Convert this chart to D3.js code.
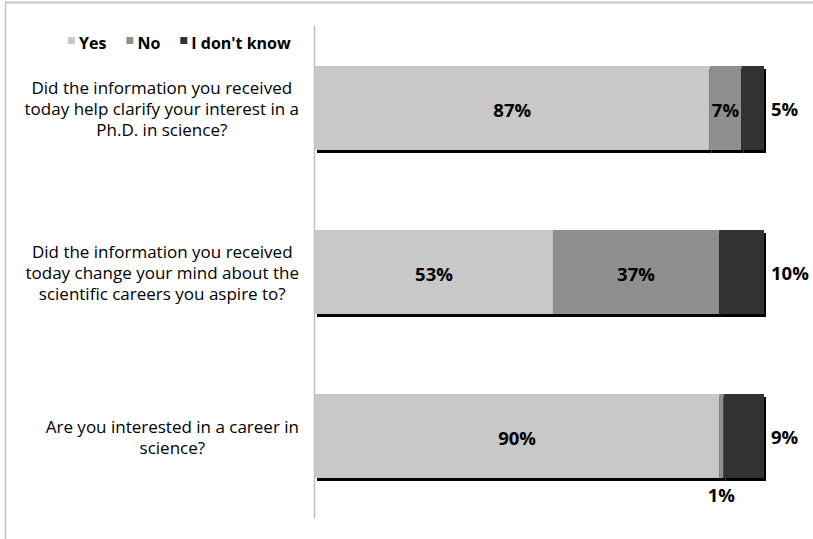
<!DOCTYPE html>
<html>
<head>
<meta charset="utf-8">
<script src="https://cdn.jsdelivr.net/npm/d3@7"></script>
<style>
  html, body { margin: 0; padding: 0; background: #fff; }
  svg { display: block; }
</style>
</head>
<body>
<svg id="chart" width="813" height="539"></svg>
<script>
// Survey questions, each wrapped onto display lines
const categories = ["q1", "q2", "q3"];
const categoryLines = [
  ["Did the information you received", "today help clarify your interest in a", "Ph.D. in science?"],
  ["Did the information you received", "today change your mind about the", "scientific careers you aspire to?"],
  ["Are you interested in a career in", "science?"]
];

// Answer shares (%), one array per answer
const seriesNames = ["Yes", "No", "I don't know"];
const yesValues = [87, 53, 90];
const noValues = [7, 37, 1];
const dontKnowValues = [5, 10, 9];

const colors = ["#c8c8c8", "#8f8f8f", "#333333"];
const FONT = "'Open Sans', 'Noto Sans', sans-serif";

const svg = d3.select("#chart");
const W = 813, H = 539;

// Outer frame lines (top and left)
svg.append("line").attr("x1", 5).attr("x2", W).attr("y1", 2.5).attr("y2", 2.5)
  .attr("stroke", "#c8c8c8").attr("stroke-width", 2);
svg.append("line").attr("x1", 5.5).attr("x2", 5.5).attr("y1", 2).attr("y2", H)
  .attr("stroke", "#c0c0c0").attr("stroke-width", 1.5);

const plot = { left: 315, right: 764, top: 26, bottom: 518 };

const rows = categories.map((c, i) => ({
  key: c, Yes: yesValues[i], No: noValues[i], "I don't know": dontKnowValues[i]
}));

// 100% stacked layout
const stack = d3.stack().keys(seriesNames).offset(d3.stackOffsetExpand);
const layers = stack(rows);

const x = d3.scaleLinear().domain([0, 1]).range([plot.left, plot.right]);
const y = d3.scaleBand().domain(categories).range([plot.top, plot.bottom])
  .paddingInner(0.488).paddingOuter(0.244);

// Drop shadows under every segment
const shadowG = svg.append("g");
layers.forEach(layer => {
  shadowG.selectAll(null).data(layer).enter().append("rect")
    .attr("x", d => x(d[0]) + 2)
    .attr("y", d => y(d.data.key) + 3)
    .attr("width", d => Math.max(0, x(d[1]) - x(d[0])))
    .attr("height", y.bandwidth())
    .attr("fill", "#000");
});

// Segments
layers.forEach((layer, si) => {
  svg.append("g").selectAll("rect").data(layer).enter().append("rect")
    .attr("x", d => x(d[0]))
    .attr("y", d => y(d.data.key))
    .attr("width", d => Math.max(0, x(d[1]) - x(d[0])))
    .attr("height", y.bandwidth())
    .attr("fill", colors[si]);
});

// Category axis line
svg.append("line").attr("x1", 314.5).attr("x2", 314.5)
  .attr("y1", plot.top).attr("y2", plot.bottom)
  .attr("stroke", "#c0c0c0").attr("stroke-width", 1.5);

// Value labels
const labelSize = 18.5;
const capHalf = labelSize * 0.714 / 2;
const labelG = svg.append("g")
  .attr("font-family", FONT).attr("font-weight", "bold")
  .attr("font-size", labelSize).attr("fill", "#000");

layers.forEach((layer, si) => {
  layer.forEach((d, ci) => {
    const value = d.data[seriesNames[si]];
    const txt = value + "%";
    const x0 = x(d[0]), x1 = x(d[1]);
    const cy = y(d.data.key) + y.bandwidth() / 2;
    const t = labelG.append("text").text(txt);
    const tw = t.node().getComputedTextLength();
    if (si === seriesNames.length - 1) {
      // last answer: label sits right of the bar
      t.attr("x", x1 + 7).attr("y", cy + 1 + capHalf).attr("text-anchor", "start");
    } else if (x1 - x0 < tw) {
      // too narrow: label sits under the bar
      t.attr("x", (x0 + x1) / 2).attr("y", y(d.data.key) + y.bandwidth() + 17 + capHalf)
        .attr("text-anchor", "middle");
    } else {
      t.attr("x", (x0 + x1) / 2).attr("y", cy + 2 + capHalf).attr("text-anchor", "middle");
    }
  });
});

// Category labels, centred as a block right-aligned to the axis
const catSize = 17;
const lineH = 21;
const catG = svg.append("g").attr("font-family", FONT).attr("font-size", catSize).attr("fill", "#000");
categories.forEach((c, i) => {
  const lines = categoryLines[i];
  const g = catG.append("g");
  const texts = lines.map(l => g.append("text").text(l));
  const maxW = d3.max(texts, t => t.node().getComputedTextLength());
  const cx = 299 - maxW / 2;
  const cy = y(c) + y.bandwidth() / 2;
  const firstBase = cy + 7 - lineH * (lines.length - 1) / 2;
  texts.forEach((t, k) => {
    t.attr("x", cx).attr("y", firstBase + k * lineH).attr("text-anchor", "middle");
  });
});

// Legend
const legendG = svg.append("g").attr("font-family", FONT).attr("font-weight", "bold")
  .attr("font-size", 16).attr("fill", "#000");
let lx = 68;
seriesNames.forEach((name, i) => {
  legendG.append("rect").attr("x", lx).attr("y", 37).attr("width", 7).attr("height", 7)
    .attr("fill", colors[i]);
  const t = legendG.append("text").attr("x", lx + 11).attr("y", 48.5).text(name);
  lx += 11 + t.node().getComputedTextLength() + 20;
});
</script>
</body>
</html>
